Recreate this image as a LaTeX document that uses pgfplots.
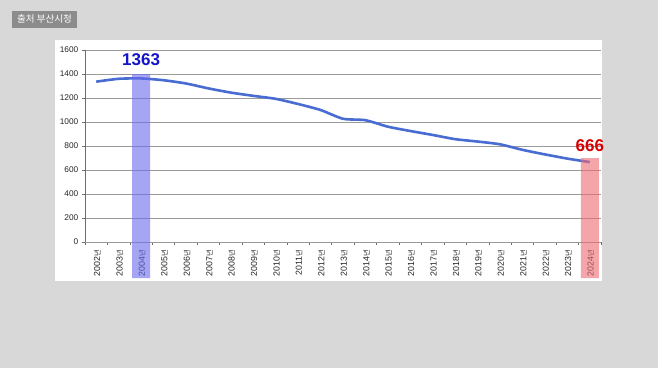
\documentclass[border=0pt]{standalone}
\usepackage{pgfplots}
\pgfplotsset{compat=1.18}
\usepackage{fontspec}
\setmainfont{Liberation Sans}
\newfontfamily\kr{Noto Sans CJK KR}
\newcommand{\yr}[1]{{\fontsize{8.8}{9}\selectfont #1}{\kr\fontsize{7.2}{8}\selectfont 년}}
\definecolor{bg}{RGB}{216,216,216}
\definecolor{srcgray}{RGB}{140,140,140}
\definecolor{linecol}{RGB}{72,108,210}
\definecolor{barblue}{RGB}{105,105,238}
\definecolor{barred}{RGB}{238,105,113}
\definecolor{labblue}{RGB}{20,20,200}
\definecolor{labred}{RGB}{215,0,0}
\definecolor{gridcol}{RGB}{155,155,155}
\definecolor{axcol}{RGB}{110,110,110}
\begin{document}
\begin{tikzpicture}[x=1pt,y=1pt]
\begin{axis}[
  set layers,
  at={(85pt,126pt)}, anchor=south west,
  scale only axis, width=516pt, height=192pt,
  xmin=-0.5, xmax=22.5, ymin=0, ymax=1600,
  clip=false,
  axis x line*=bottom, axis y line*=left,
  x axis line style={draw=gridcol, line width=0.8pt},
  y axis line style={draw=axcol, line width=0.8pt},
  ytick={0,200,...,1600},
  ymajorgrids,
  grid style={draw=gridcol, line width=0.8pt},
  tick align=outside,
  major tick length=3pt, minor tick length=3pt,
  ytick style={draw=axcol, line width=0.6pt},
  major x tick style={draw=none},
  minor x tick style={draw=axcol, line width=0.6pt},
  xtick={0,...,22},
  minor xtick={-0.5,0.5,...,22.5},
  xticklabels={\yr{2002},\yr{2003},\yr{2004},\yr{2005},\yr{2006},\yr{2007},\yr{2008},\yr{2009},\yr{2010},\yr{2011},\yr{2012},\yr{2013},\yr{2014},\yr{2015},\yr{2016},\yr{2017},\yr{2018},\yr{2019},\yr{2020},\yr{2021},\yr{2022},\yr{2023},\yr{2024}},
  xticklabel shift=4pt,
  xticklabel style={rotate=90, anchor=east, inner sep=1pt, yshift=-1pt, text=black!85},
  yticklabel style={font=\fontsize{8.3}{9}\selectfont, inner sep=1pt, xshift=-2.5pt, text=black!85},
  /pgf/number format/assume math mode=true,
  /pgf/number format/1000 sep={},
]
\begin{pgfonlayer}{axis background}
\fill[bg] (axis cs:-4.289,-1050) rectangle (axis cs:25.041,2016.7);
\fill[white] (axis cs:-1.837,-325) rectangle (axis cs:22.545,1683.3);
\fill[srcgray] (axis cs:-3.754,1787.5) rectangle (axis cs:-0.857,1925);
\node[text=white, inner sep=0pt, font=\kr\fontsize{9.5}{10}\selectfont] at (axis cs:-2.305,1856) {출처 부산시청};
\end{pgfonlayer}
\addplot[linecol, line width=2.6pt, smooth, tension=0.4] coordinates {
(0,1336) (1,1360) (2,1363) (3,1348) (4,1321) (5,1280) (6,1245) (7,1218)
(8,1193) (9,1150) (10,1100) (11,1027) (12,1015) (13,961) (14,925) (15,892)
(16,857) (17,837) (18,814) (19,768) (20,730) (21,695) (22,666)};
\addplot[fill=barblue, fill opacity=0.6, draw=none, forget plot] coordinates {(1.6,-300) (2.4,-300) (2.4,1400) (1.6,1400) (1.6,-300)};
\addplot[fill=barred, fill opacity=0.6, draw=none, forget plot] coordinates {(21.6,-300) (22.4,-300) (22.4,700) (21.6,700) (21.6,-300)};
\node[font=\bfseries\fontsize{17}{17}\selectfont, text=labblue, inner sep=0pt] at (axis cs:2,1517) {1363};
\node[font=\bfseries\fontsize{17}{17}\selectfont, text=labred, inner sep=0pt] at (axis cs:22,800) {666};
\end{axis}
\end{tikzpicture}
\end{document}
